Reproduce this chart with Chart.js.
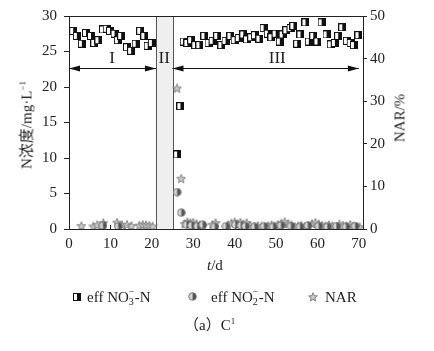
<!DOCTYPE html>
<html>
<head>
<meta charset="utf-8">
<script src="https://cdn.jsdelivr.net/npm/chart.js@4.4.0/dist/chart.umd.min.js"></script>
<style>
  body { margin: 0; background: #fff; }
  #wrap { position: relative; width: 434px; height: 351px; font-family: "Liberation Serif", "Noto Sans CJK SC", serif; color: #222; }
  #chart { position: absolute; left: 0; top: 0; }
  .txt { position: absolute; white-space: nowrap; font-size: 15px; line-height: 15px; }
  .vert { transform: translate(-50%, -50%) rotate(-90deg); }
  .mk { position: absolute; }
  .ion { display: inline-block; position: relative; width: 6px; height: 15px; vertical-align: top; }
  .ion span { position: absolute; left: 0; font-size: 10px; line-height: 10px; }
  .ion .sp { top: -3px; }
  .ion .sb { top: 7px; }
  sup { font-size: 9px; line-height: 0; }
</style>
</head>
<body>
<div id="wrap">
  <canvas id="chart" width="434" height="351"></canvas>
  <div class="txt vert" style="left:27px;top:125px;">N浓度/mg·L<sup>−1</sup></div>
  <div class="txt vert" style="left:400px;top:118px;">NAR/%</div>
  <div class="txt" style="left:207px;top:258px;"><i>t</i>/d</div>
  <canvas class="mk" id="lg1" width="8" height="8" style="left:73px;top:293px;"></canvas>
  <div class="txt" style="left:87px;top:290px;">eff NO<span class="ion"><span class="sp">−</span><span class="sb">3</span></span>-N</div>
  <canvas class="mk" id="lg2" width="9" height="9" style="left:188px;top:292px;"></canvas>
  <div class="txt" style="left:211px;top:290px;">eff NO<span class="ion"><span class="sp">−</span><span class="sb">2</span></span>-N</div>
  <canvas class="mk" id="lg3" width="10" height="10" style="left:308px;top:292px;"></canvas>
  <div class="txt" style="left:325px;top:290px;">NAR</div>
  <div class="txt" style="left:184px;top:318px;">（a）C<sup>1</sup></div>
</div>
<script>
// effluent nitrate, mg/L
const no3Days = [1.0, 1.9, 3.1, 4.1, 5.3, 6.1, 7.1, 8.2, 9.1, 9.9, 11.0, 11.8, 12.6, 14.0, 15.0, 16.1, 17.2, 18.2, 19.0, 20.0,
  26.1, 26.9,
  27.7, 28.6, 29.5, 30.5, 31.5, 32.7, 33.7, 34.7, 35.8, 36.8, 37.8, 39.0, 40.0, 41.0, 42.1, 43.0, 44.0, 44.9, 46.0, 47.0,
  48.0, 48.9, 49.9, 50.9, 51.6, 52.5, 53.5, 54.2, 55.1, 55.9, 57.1, 57.9, 59.0, 60.0, 61.0, 62.2, 63.2, 64.2, 65.0, 66.0,
  67.1, 68.0, 68.8, 69.9];
const no3Vals = [27.9, 27.2, 26.1, 27.6, 27.2, 26.2, 26.6, 28.1, 28.2, 27.9, 27.5, 26.6, 27.2, 25.6, 25.1, 26.1, 27.9, 27.2, 25.8, 26.2,
  10.5, 17.3,
  26.4, 26.2, 26.6, 25.9, 25.9, 27.2, 26.2, 26.5, 27.2, 25.9, 26.5, 27.2, 26.6, 26.9, 27.4, 26.7, 27.0, 27.3, 26.8, 28.3,
  27.5, 27.0, 27.5, 26.4, 27.4, 28.0, 28.3, 28.6, 26.1, 27.4, 29.1, 26.4, 27.2, 26.4, 29.1, 27.4, 26.0, 26.2, 27.2, 28.4,
  26.5, 26.2, 25.9, 27.3];

// effluent nitrite, mg/L
const no2Days = [8.2, 11.9, 26.1, 27.1, 28.4, 29.6, 31.0, 32.3, 35.2, 37.9, 40.2, 41.5, 42.6, 44.8, 47.1, 49.3, 51.2,
  53.6, 55.8, 57.7, 60.3, 62.4, 64.6, 66.9, 69.1];
const no2Vals = [0.5, 0.4, 5.2, 2.3, 0.6, 0.5, 0.4, 0.6, 0.3, 0.4, 0.6, 0.5, 0.4, 0.3, 0.4, 0.3, 0.5,
  0.4, 0.3, 0.5, 0.4, 0.3, 0.4, 0.3, 0.4];

// nitrite accumulation rate, %
const narDays = [3.0, 5.9, 6.8, 8.3, 11.6, 12.8, 14.0, 15.1, 17.0, 17.8, 18.6, 19.4, 20.2,
  26.1, 27.1,
  27.9, 28.6, 29.3, 30.0, 30.8, 31.6, 32.4, 34.6, 35.4,
  38.4, 39.2, 40.0, 40.7, 41.4, 42.1, 42.9, 43.7, 44.6, 45.6, 46.5, 47.3, 48.1, 48.9, 49.7, 50.5, 51.3, 52.1, 52.9, 53.7,
  54.5, 55.3, 56.1, 57.0, 57.8, 58.7, 59.5, 60.3, 61.1, 61.9, 62.8, 63.6, 64.5, 65.3, 66.2, 67.0, 67.9, 68.7, 69.5, 70.2];
const narVals = [0.7, 0.6, 0.9, 1.4, 1.5, 0.9, 1.0, 0.7, 0.8, 1.0, 0.9, 0.8, 0.6,
  33.0, 11.8,
  1.2, 1.6, 1.4, 1.5, 1.1, 0.9, 0.7, 1.0, 1.4,
  0.9, 1.3, 1.6, 1.2, 1.5, 1.1, 1.4, 0.8, 0.5, 0.7, 0.6, 0.4, 0.7, 0.9, 0.6, 1.0, 1.3, 1.6, 1.2, 0.9,
  0.5, 0.6, 0.8, 0.5, 0.7, 1.2, 1.5, 1.1, 0.8, 0.6, 0.9, 0.7, 0.5, 1.1, 0.8, 0.6, 1.0, 0.7, 0.5, 0.4];

// stages: [start, end, label, label day]
const stages = [[0, 21, "I", 10.4], [21, 25, "II", 23], [25, 70, "III", 50.3]];
const arrowLevel = 22.7;
const stageLabelLevel = 24.0;

const ink = "#222";
const tickFont = { family: "Liberation Serif", size: 15 };

function squareMark() {
  const c = document.createElement("canvas");
  c.width = 8; c.height = 8;
  const g = c.getContext("2d");
  g.fillStyle = "#fff"; g.fillRect(0.5, 0.5, 7, 7);
  g.fillStyle = "#111"; g.fillRect(4, 0.5, 3.5, 7);
  g.strokeStyle = "#111"; g.lineWidth = 1; g.strokeRect(0.5, 0.5, 7, 7);
  return c;
}

function circleMark() {
  const c = document.createElement("canvas");
  c.width = 9; c.height = 9;
  const g = c.getContext("2d");
  g.fillStyle = "#d4d4d4";
  g.beginPath(); g.arc(4.5, 4.5, 3.8, Math.PI / 2, Math.PI * 1.5); g.fill();
  g.fillStyle = "#555";
  g.beginPath(); g.arc(4.5, 4.5, 3.8, -Math.PI / 2, Math.PI / 2); g.fill();
  g.strokeStyle = "#666"; g.lineWidth = 0.8;
  g.beginPath(); g.arc(4.5, 4.5, 3.8, 0, Math.PI * 2); g.stroke();
  return c;
}

function starMark() {
  const c = document.createElement("canvas");
  c.width = 10; c.height = 10;
  const g = c.getContext("2d");
  g.beginPath();
  for (let i = 0; i < 10; i++) {
    const r = i % 2 === 0 ? 4.6 : 2.0;
    const a = -Math.PI / 2 + i * Math.PI / 5;
    const px = 5 + r * Math.cos(a), py = 5.3 + r * Math.sin(a);
    i === 0 ? g.moveTo(px, py) : g.lineTo(px, py);
  }
  g.closePath();
  g.fillStyle = "#c8c8c8"; g.fill();
  g.strokeStyle = "#808080"; g.lineWidth = 1; g.stroke();
  return c;
}

function copyMark(id, src) {
  document.getElementById(id).getContext("2d").drawImage(src, 0, 0);
}

const sq = squareMark(), ci = circleMark(), st = starMark();
copyMark("lg1", sq); copyMark("lg2", ci); copyMark("lg3", st);

const toPoints = (xs, ys) => xs.map((x, i) => ({ x, y: ys[i] }));

function arrowHead(ctx, tipX, y, dir) {
  ctx.beginPath();
  ctx.moveTo(tipX, y);
  ctx.lineTo(tipX - dir * 11, y - 3);
  ctx.lineTo(tipX - dir * 11, y + 3);
  ctx.closePath();
  ctx.fill();
}

const decor = {
  id: "decor",
  beforeDatasetsDraw(chart) {
    const { ctx, chartArea: a, scales: { x, y } } = chart;
    ctx.save();
    const bx1 = Math.round(x.getPixelForValue(stages[1][0])) + 0.5;
    const bx2 = Math.round(x.getPixelForValue(stages[1][1])) + 0.5;
    ctx.fillStyle = "#efefef";
    ctx.fillRect(bx1, a.top, bx2 - bx1, a.bottom - a.top);
    ctx.strokeStyle = "#555"; ctx.lineWidth = 1;
    ctx.beginPath();
    ctx.moveTo(bx1, a.top); ctx.lineTo(bx1, a.bottom);
    ctx.moveTo(bx2, a.top); ctx.lineTo(bx2, a.bottom);
    ctx.stroke();

    // top frame line and inward x ticks
    ctx.strokeStyle = ink;
    ctx.beginPath();
    const top = Math.round(a.top) + 0.5;
    ctx.moveTo(a.left, top); ctx.lineTo(a.right, top);
    for (let t = 10; t <= 70; t += 10) {
      const px = Math.round(x.getPixelForValue(t)) + 0.5;
      ctx.moveTo(px, a.bottom); ctx.lineTo(px, a.bottom - 4);
    }
    ctx.stroke();

    // stage arrows
    const ay = Math.round(y.getPixelForValue(arrowLevel)) + 0.5;
    ctx.fillStyle = "#111"; ctx.strokeStyle = "#111";
    [stages[0], stages[2]].forEach(([s, e]) => {
      const x1 = x.getPixelForValue(s), x2 = x.getPixelForValue(e);
      ctx.beginPath(); ctx.moveTo(x1, ay); ctx.lineTo(x2, ay); ctx.stroke();
      arrowHead(ctx, x1, ay, -1);
      arrowHead(ctx, x2, ay, 1);
    });

    ctx.font = '17px "Liberation Serif"';
    ctx.fillStyle = ink;
    ctx.textAlign = "center"; ctx.textBaseline = "middle";
    stages.forEach(sg => ctx.fillText(sg[2], x.getPixelForValue(sg[3]), y.getPixelForValue(stageLabelLevel)));
    ctx.restore();
  }
};

new Chart(document.getElementById("chart"), {
  type: "scatter",
  data: {
    datasets: [
      { label: "eff NO3-N", data: toPoints(no3Days, no3Vals), pointStyle: sq, yAxisID: "y" },
      { label: "eff NO2-N", data: toPoints(no2Days, no2Vals), pointStyle: ci, yAxisID: "y" },
      { label: "NAR", data: toPoints(narDays, narVals), pointStyle: st, yAxisID: "y2" }
    ]
  },
  options: {
    responsive: false,
    animation: false,
    devicePixelRatio: 1,
    layout: { padding: { top: 15, left: 0, right: 0, bottom: 0 } },
    plugins: { legend: { display: false }, tooltip: { enabled: false } },
    scales: {
      x: {
        type: "linear", min: 0, max: 71,
        ticks: { stepSize: 10, includeBounds: false, font: tickFont, color: ink, padding: 6 },
        grid: { drawOnChartArea: false, drawTicks: false, color: ink },
        border: { color: ink },
        afterFit: s => { s.height = 122; }
      },
      y: {
        position: "left", min: 0, max: 30,
        ticks: { stepSize: 5, font: tickFont, color: ink, padding: 7 },
        grid: { drawOnChartArea: false, tickLength: 5, color: ink },
        border: { color: ink },
        afterFit: s => { s.width = 69; }
      },
      y2: {
        position: "right", min: 0, max: 50,
        ticks: { stepSize: 10, font: tickFont, color: ink, padding: 3 },
        grid: { drawOnChartArea: false, tickLength: 4, color: ink },
        border: { color: ink },
        afterFit: s => { s.width = 71; }
      }
    }
  },
  plugins: [decor]
});
</script>
</body>
</html>
